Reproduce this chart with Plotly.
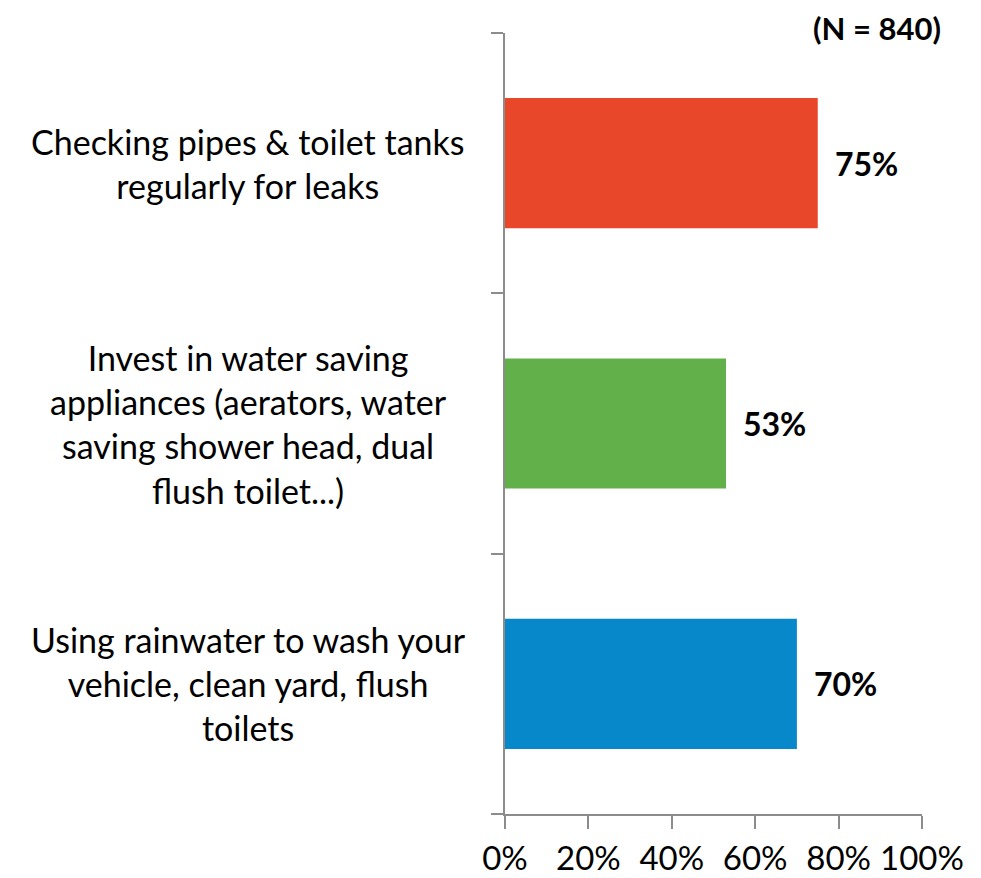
import plotly.graph_objects as go

categories = [
    "Using rainwater to wash your<br>vehicle, clean yard, flush<br>toilets",
    "Invest in water saving<br>appliances (aerators, water<br>saving shower head, dual<br>flush toilet...)",
    "Checking pipes & toilet tanks<br>regularly for leaks",
]
values = [70, 53, 75]
colors = ["#0788CB", "#62B04A", "#E8472A"]
tick_vals = [0, 20, 40, 60, 80, 100]
tick_text = ["0%", "20%", "40%", "60%", "80%", "100%"]
note = "(N = 840)"

FONT = "Lato, Carlito, Calibri, sans-serif"
AXIS = "#8C8C8C"

fig = go.Figure()
fig.add_trace(go.Bar(
    x=values, y=categories, orientation="h",
    marker=dict(color=colors, line=dict(width=0)),
    width=0.5, hoverinfo="skip",
))

for c, v in zip(categories, values):
    fig.add_annotation(x=v, y=c, xref="x", yref="y", text=f"<b>{v}%</b>",
                       showarrow=False, xanchor="left", xshift=15,
                       font=dict(family=FONT, size=32, color="#000000"))
    fig.add_annotation(x=-0.616, y=c, xref="paper", yref="y", text=c,
                       showarrow=False, xanchor="center", align="center",
                       font=dict(family=FONT, size=34, color="#000000"))

fig.add_annotation(x=1.05, y=1.006, xref="paper", yref="paper", text=f"<b>{note}</b>",
                   showarrow=False, xanchor="right", yanchor="middle",
                   font=dict(family=FONT, size=31, color="#000000"))

fig.update_layout(
    width=981, height=878,
    margin=dict(l=497, r=67, t=25, b=72, autoexpand=False),
    plot_bgcolor="white", paper_bgcolor="white",
    showlegend=False,
    font=dict(family=FONT, size=34, color="#000000"),
)
fig.update_xaxes(range=[0, 100], tickvals=tick_vals, ticktext=tick_text,
                 automargin=False,
                 showgrid=False, zeroline=False, showline=True, linecolor=AXIS, linewidth=2,
                 ticks="outside", ticklen=13, tickwidth=2, tickcolor=AXIS,
                 ticklabelstandoff=1,
                 tickfont=dict(family=FONT, size=33, color="#000000"))
fig.update_yaxes(showticklabels=False, tickson="boundaries", ticks="outside",
                 automargin=False,
                 ticklen=12, tickwidth=2, tickcolor=AXIS,
                 showgrid=False, zeroline=False, showline=True, linecolor=AXIS, linewidth=2)

fig.write_html("out.html")
